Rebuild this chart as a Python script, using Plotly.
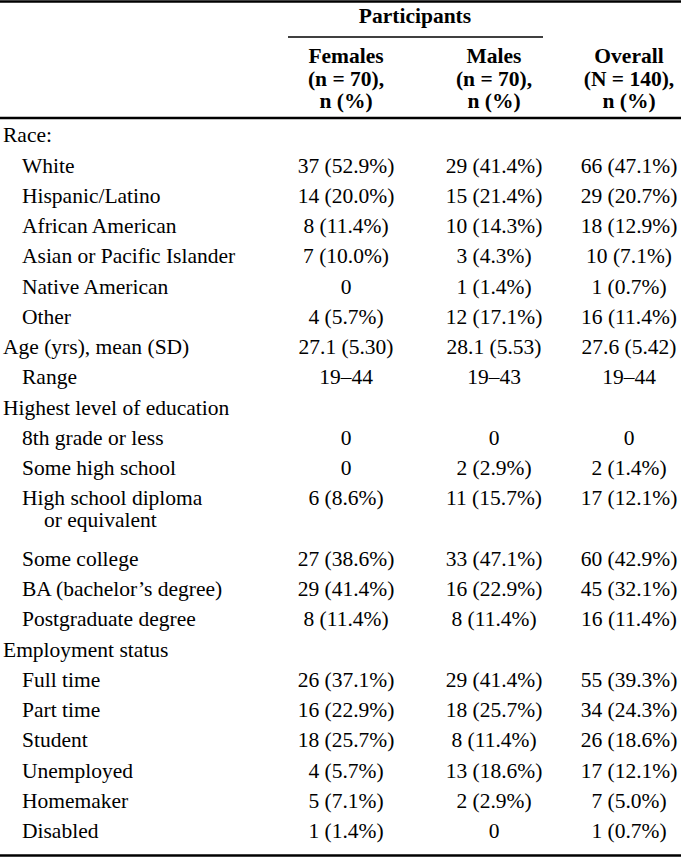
import plotly.graph_objects as go

# ---- data ----
labels = [
    "Race:", "White", "Hispanic/Latino", "African American",
    "Asian or Pacific Islander", "Native American", "Other",
    "Age (yrs), mean (SD)", "Range", "Highest level of education",
    "8th grade or less", "Some high school", "High school diploma",
    "Some college", "BA (bachelor’s degree)", "Postgraduate degree",
    "Employment status", "Full time", "Part time", "Student",
    "Unemployed", "Homemaker", "Disabled",
]
label_extra = ["", "", "", "", "", "", "", "", "", "", "", "",
               "or equivalent", "", "", "", "", "", "", "", "", "", ""]
levels = [0, 1, 1, 1, 1, 1, 1, 0, 1, 0, 1, 1, 1, 1, 1, 1, 0, 1, 1, 1, 1, 1, 1]

females = ["", "37 (52.9%)", "14 (20.0%)", "8 (11.4%)", "7 (10.0%)", "0",
           "4 (5.7%)", "27.1 (5.30)", "19–44", "", "0", "0", "6 (8.6%)",
           "27 (38.6%)", "29 (41.4%)", "8 (11.4%)", "", "26 (37.1%)",
           "16 (22.9%)", "18 (25.7%)", "4 (5.7%)", "5 (7.1%)", "1 (1.4%)"]
males = ["", "29 (41.4%)", "15 (21.4%)", "10 (14.3%)", "3 (4.3%)",
         "1 (1.4%)", "12 (17.1%)", "28.1 (5.53)", "19–43", "", "0",
         "2 (2.9%)", "11 (15.7%)", "33 (47.1%)", "16 (22.9%)", "8 (11.4%)",
         "", "29 (41.4%)", "18 (25.7%)", "8 (11.4%)", "13 (18.6%)",
         "2 (2.9%)", "0"]
overall = ["", "66 (47.1%)", "29 (20.7%)", "18 (12.9%)", "10 (7.1%)",
           "1 (0.7%)", "16 (11.4%)", "27.6 (5.42)", "19–44", "", "0",
           "2 (1.4%)", "17 (12.1%)", "60 (42.9%)", "45 (32.1%)",
           "16 (11.4%)", "", "55 (39.3%)", "34 (24.3%)", "26 (18.6%)",
           "17 (12.1%)", "7 (5.0%)", "1 (0.7%)"]

group_header = "Participants"
col_headers = [
    ["Females", "(n = 70),", "n (%)"],
    ["Males", "(n = 70),", "n (%)"],
    ["Overall", "(N = 140),", "n (%)"],
]

# ---- layout constants (page pixels) ----
PAGE_W, PAGE_H = 681, 858
FONT = "Liberation Serif"
FS = 21.5
first_y = 137
pitch = 30.25
second_line = 22
col_x = [346, 494, 629]
indent_x = [3, 22, 44]
header_y = [58, 80.5, 103]

# row y positions from row index and line counts
ys = []
slot = 0
for i, lab in enumerate(labels):
    ys.append(first_y + slot * pitch)
    slot += 2 if label_extra[i] else 1

fig = go.Figure()
tf = dict(family=FONT, size=FS, color="black")

# label column
lx, ly, lt = [], [], []
for i, lab in enumerate(labels):
    lx.append(indent_x[levels[i]])
    ly.append(ys[i])
    lt.append(lab)
    if label_extra[i]:
        lx.append(indent_x[2])
        ly.append(ys[i] + second_line)
        lt.append(label_extra[i])
fig.add_trace(go.Scatter(x=lx, y=ly, text=lt, mode="text",
                         textposition="middle right", textfont=tf,
                         cliponaxis=False,
                         hoverinfo="skip", showlegend=False))

# value columns
for cx, vals in zip(col_x, [females, males, overall]):
    fig.add_trace(go.Scatter(x=[cx] * len(vals), y=ys, text=vals, mode="text",
                             textposition="middle center", textfont=tf,
                             cliponaxis=False,
                             hoverinfo="skip", showlegend=False))

# headers
hx, hy, ht = [], [], []
for cx, lines in zip(col_x, col_headers):
    for yy, t in zip(header_y, lines):
        hx.append(cx)
        hy.append(yy)
        ht.append("<b>" + t + "</b>")
hx.append(415)
hy.append(18)
ht.append("<b>" + group_header + "</b>")
fig.add_trace(go.Scatter(x=hx, y=hy, text=ht, mode="text",
                         textposition="middle center", textfont=tf,
                         cliponaxis=False,
                         hoverinfo="skip", showlegend=False))

# rules
def hline(y, x0, x1, w):
    fig.add_shape(type="line", xref="x", yref="y", x0=x0, x1=x1, y0=y, y1=y,
                  line=dict(color="black", width=w))

hline(1.5, 0, PAGE_W, 2.5)
hline(37, 288, 543, 1.5)
hline(118, 0, PAGE_W, 2.5)
hline(855.5, 0, PAGE_W, 2.5)

fig.update_layout(
    width=PAGE_W, height=PAGE_H,
    margin=dict(l=0, r=0, t=0, b=0),
    paper_bgcolor="white", plot_bgcolor="white",
    xaxis=dict(range=[0, PAGE_W], visible=False, fixedrange=True),
    yaxis=dict(range=[PAGE_H, 0], visible=False, fixedrange=True),
)

fig.write_html(
    "out.html",
    config={"displayModeBar": False, "staticPlot": True},
    post_script="document.body.style.margin='0';document.body.style.overflow='hidden';",
)
